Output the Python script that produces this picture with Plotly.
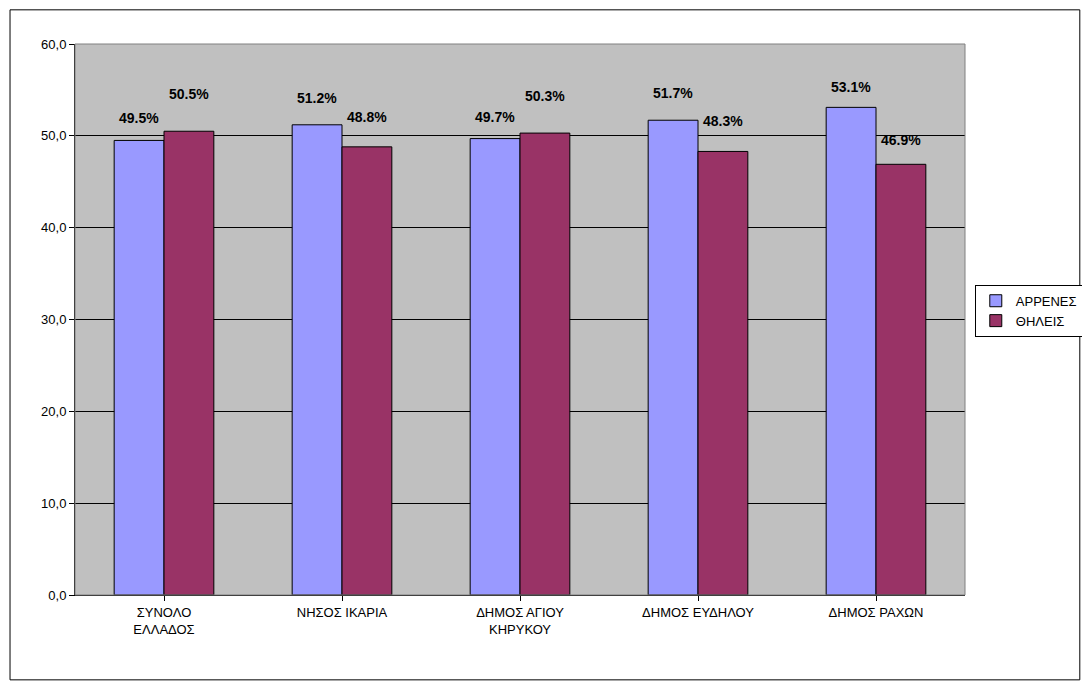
import plotly.graph_objects as go

categories = ["ΣΥΝΟΛΟ<br>ΕΛΛΑΔΟΣ", "ΝΗΣΟΣ ΙΚΑΡΙΑ", "ΔΗΜΟΣ ΑΓΙΟΥ<br>ΚΗΡΥΚΟΥ", "ΔΗΜΟΣ ΕΥΔΗΛΟΥ", "ΔΗΜΟΣ ΡΑΧΩΝ"]
males = [49.5, 51.2, 49.7, 51.7, 53.1]
females = [50.5, 48.8, 50.3, 48.3, 46.9]
tick_vals = [0, 10, 20, 30, 40, 50, 60]
tick_text = ["0,0", "10,0", "20,0", "30,0", "40,0", "50,0", "60,0"]

# Excel puts the labels at uneven heights above the bars
male_shift = [22, 27, 22, 27, 20]
female_shift = [37, 30, 37, 30, 24]

font = dict(family="Liberation Sans, Arial", size=13, color="black")
label_font = dict(family="Liberation Sans, Arial", size=14, color="black", weight="bold")

fig = go.Figure()
fig.add_trace(go.Bar(
    x=categories, y=males, name="ΑΡΡΕΝΕΣ",
    marker=dict(color="#9999FF", line=dict(color="black", width=1)),
))
fig.add_trace(go.Bar(
    x=categories, y=females, name="ΘΗΛΕΙΣ",
    marker=dict(color="#993366", line=dict(color="black", width=1)),
))

for cat, m, f, ms, fs in zip(categories, males, females, male_shift, female_shift):
    fig.add_annotation(x=cat, y=m, text=f"{m:.1f}%", showarrow=False, xshift=-25,
                       yshift=ms, font=label_font)
    fig.add_annotation(x=cat, y=f, text=f"{f:.1f}%", showarrow=False, xshift=25,
                       yshift=fs, font=label_font)

fig.update_layout(
    width=1090, height=688,
    margin=dict(l=67, r=133, t=36, b=101),
    paper_bgcolor="white", plot_bgcolor="#C0C0C0",
    font=font,
    barmode="group", bargap=0.44, bargroupgap=0,
    showlegend=True,
    legend=dict(x=1.011, y=0.563, xanchor="left", yanchor="top",
                bordercolor="black", borderwidth=1, bgcolor="white",
                font=font, itemwidth=30),
    xaxis=dict(showline=True, linecolor="black", ticks="outside", tickcolor="black",
               showgrid=False, tickfont=font),
    yaxis=dict(range=[0, 60], tickvals=tick_vals, ticktext=tick_text,
               showgrid=True, gridcolor="black", gridwidth=1,
               showline=True, linecolor="black", ticks="outside", tickcolor="black",
               zeroline=False, tickfont=font),
    shapes=[
        dict(type="rect", xref="paper", yref="paper", x0=0, x1=1, y0=0, y1=1,
             line=dict(color="gray", width=1)),
        dict(type="rect", xref="paper", yref="paper", x0=-0.073, x1=1.129, y0=-0.154, y1=1.062,
             line=dict(color="black", width=1)),
    ],
)

fig.write_html("out.html")
